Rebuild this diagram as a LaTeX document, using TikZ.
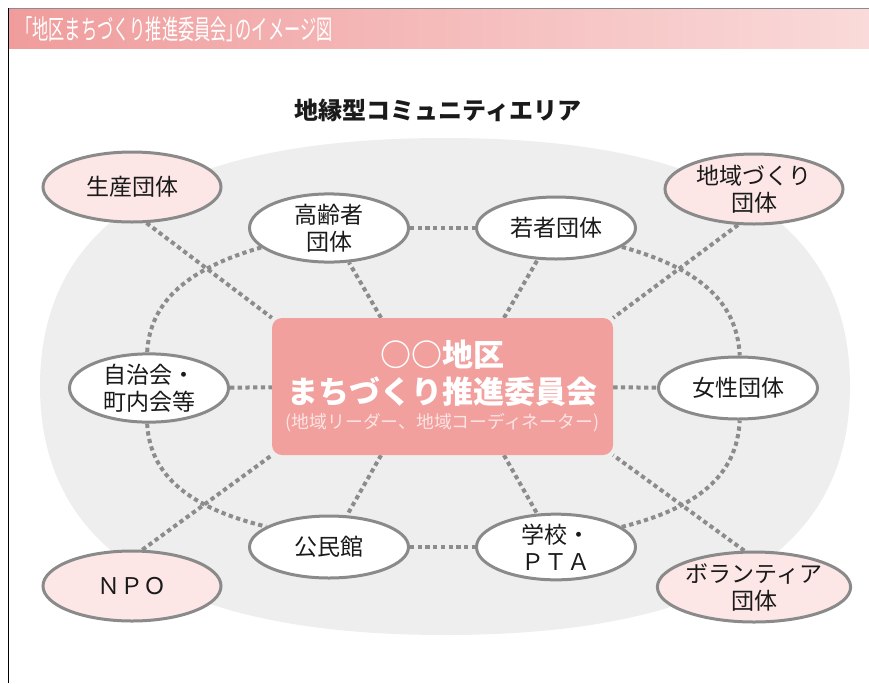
\documentclass[tikz,border=0pt]{standalone}
\usepackage{fontspec}
\setmainfont{Noto Sans CJK JP}
\usepackage{graphicx}
\usetikzlibrary{shapes.geometric,calc,backgrounds}
\definecolor{bggray}{HTML}{EEEEEE}
\definecolor{lineg}{HTML}{8C8C8C}
\definecolor{edgeg}{HTML}{8A8A8A}
\definecolor{pinkf}{HTML}{FCE6E6}
\definecolor{boxpink}{HTML}{F1A09E}
\definecolor{subpink}{HTML}{FDE4E4}
\definecolor{hdrL}{HTML}{F09C9C}
\definecolor{hdrR}{HTML}{FADADA}
\definecolor{txt}{HTML}{1A1A1A}
\begin{document}
\begin{tikzpicture}[x=1pt,y=-1pt,
  conn/.style={draw=lineg, line width=4pt, dash pattern=on 4.3pt off 3.4pt},
  outerell/.style={ellipse, draw=edgeg, line width=3pt, fill=pinkf, minimum width=178pt, minimum height=70pt, inner sep=0pt, text=txt, font=\fontsize{23}{27}\selectfont, align=center},
  innerell/.style={outerell, fill=white, minimum width=159pt, minimum height=62pt},
  boxstyle/.style={rectangle, rounded corners=10pt, fill=boxpink, minimum width=341pt, minimum height=137pt, inner sep=0pt}]
\useasboundingbox (0,0) rectangle (869,683);
% frame and header
\shade[left color=hdrL, right color=hdrR] (8,9) rectangle (869,48);
\draw[black!45, line width=0.8pt] (8,8) -- (869,8);
\draw[black, line width=1pt] (8,8) -- (8,683);
\node[anchor=west, text=white, inner sep=0pt] (hdr) at (16,29) {\scalebox{0.6}[1]{\fontsize{27}{30}\selectfont 「地区まちづくり推進委員会」\hspace{-0.45em}のイメージ図}};
% title
\node[font=\fontsize{24}{28}\selectfont\bfseries, text=txt] (ttl) at (438,110) {地縁型コミュニティエリア};
% center box
\node[boxstyle] (c) at (442.5,386.5) {};
\node[text=white, font=\fontsize{31}{36}\selectfont\bfseries] (c1) at (442.5,355) {○○地区};
\node[text=white, font=\fontsize{31}{36}\selectfont\bfseries] (c2) at (442.5,392) {まちづくり推進委員会};
\node[text=subpink, font=\fontsize{17.8}{20}\selectfont] (c3) at (442.5,423) {(地域リーダー、地域コーディネーター)};
% nodes
\node[outerell] (sei) at (132,187) {生産団体};
\node[outerell] (chiiki) at (754,189) {地域づくり\\団体};
\node[outerell] (npo) at (132,586) {ＮＰＯ};
\node[outerell] (vol) at (754,587) {ボランティア\\団体};
\node[innerell] (kou) at (329,228) {高齢者\\団体};
\node[innerell] (waka) at (556,228) {若者団体};
\node[innerell] (jichi) at (149,388) {自治会・\\町内会等};
\node[innerell] (josei) at (738,388) {女性団体};
\node[innerell] (kmk) at (329,547) {公民館};
\node[innerell] (gak) at (556,547) {学校・\\ＰＴＡ};
\begin{scope}[on background layer]
% background area
\fill[bggray] (40,386) .. controls (40,190) and (230,138) .. (445,138)
  .. controls (660,138) and (850,190) .. (850,386)
  .. controls (850,582) and (660,635) .. (445,635)
  .. controls (230,635) and (40,582) .. (40,386) -- cycle;
% straight connectors
\draw[conn] (kou) -- (waka);
\draw[conn] (kmk) -- (gak);
\draw[conn] (jichi) -- (c);
\draw[conn] (c) -- (josei);
\draw[conn] ($(c.north west)!0.32!(c.north east)$) -- (kou);
\draw[conn] ($(c.north west)!0.68!(c.north east)$) -- (waka);
\draw[conn] ($(c.south west)!0.32!(c.south east)$) -- (kmk);
\draw[conn] ($(c.south west)!0.68!(c.south east)$) -- (gak);
\draw[conn] (sei.-68) -- (c.north west);
\draw[conn] (chiiki.-114) -- (c.north east);
\draw[conn] (npo.74) -- (c.south west);
\draw[conn] (vol.105) -- (c.south east);
% curved connectors
\draw[conn] (kou.-164) .. controls (190,268) and (150,300) .. (jichi.93);
\draw[conn] (jichi.-93) .. controls (150,476) and (190,508) .. (kmk.162);
\draw[conn] (waka.-16) .. controls (697,268) and (737,300) .. (josei.87);
\draw[conn] (gak.17) .. controls (697,508) and (737,476) .. (josei.-87);
\end{scope}
\end{tikzpicture}
\end{document}
